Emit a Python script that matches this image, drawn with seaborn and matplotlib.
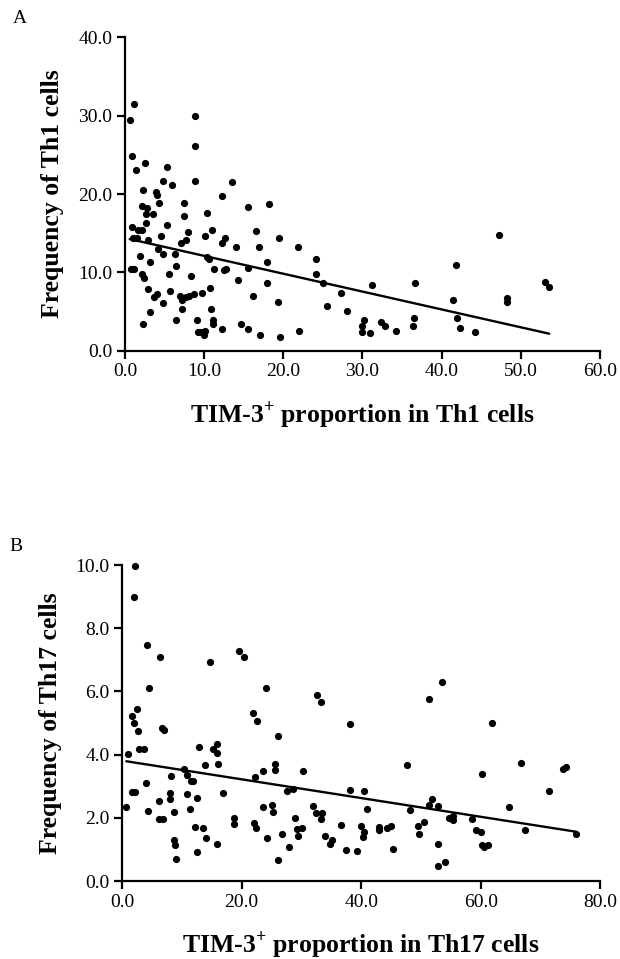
import numpy as np
import matplotlib
matplotlib.use("Agg")
import matplotlib.pyplot as plt
from matplotlib.ticker import FormatStrFormatter
import seaborn as sns

# Panel A: TIM-3+ proportion in Th1 cells vs Th1 frequency
th1_tim3 = [0.6, 1.1, 0.9, 1.4, 2.5, 2.3, 2.1, 2.8, 2.6, 3.5, 2.7, 0.9, 1.6, 2.2, 1.0, 1.5,
            2.9, 1.9, 3.2, 0.8, 1.2, 2.1, 2.4, 2.9, 3.7, 4.1, 4.8, 3.2, 2.3, 3.9, 4.0,
            4.3, 4.8, 5.3, 5.9, 5.3, 4.5, 4.2, 4.8, 6.3, 5.6, 6.4, 5.7, 6.4, 7.4, 7.4,
            7.1, 7.7, 8.0, 6.9, 7.2, 7.2, 7.7, 8.1, 8.3, 8.7, 8.9, 8.9, 8.9, 9.7, 9.1,
            9.2, 9.6, 10.0, 10.1, 10.3, 10.1, 10.3, 10.6, 11.0, 11.2, 10.8, 10.9, 11.1,
            11.1, 12.2, 12.3, 12.6, 12.5, 12.8, 12.3, 13.5, 14.0, 14.3, 14.7, 15.5, 15.6,
            15.6, 16.2, 16.5, 16.9, 17.1, 18.2, 18.0, 18.0, 19.3, 19.4, 19.6, 21.8, 22.0,
            24.1, 24.1, 25.0, 25.5, 27.3, 28.1, 31.2, 30.2, 30.0, 30.0, 30.9, 32.3, 32.8,
            34.2, 36.7, 36.5, 36.4, 41.8, 41.5, 42.0, 42.3, 44.2, 47.3, 48.3, 48.3, 53.1,
            53.6]
th1_freq = [29.4, 31.5, 24.9, 23.1, 24.0, 20.5, 18.5, 18.2, 17.5, 17.4, 16.3, 15.8, 15.4, 15.4,
            14.4, 14.4, 14.1, 12.1, 11.4, 10.4, 10.4, 9.8, 9.3, 7.9, 6.9, 7.2, 6.1, 5.0, 3.5,
            20.2, 19.9, 18.8, 21.7, 23.4, 21.1, 16.0, 14.6, 13.0, 12.4, 12.4, 9.85, 10.8,
            7.6, 4.0, 18.9, 17.2, 13.7, 14.2, 15.2, 7.0, 6.5, 5.4, 6.9, 7.0, 9.6, 7.3, 30.0,
            26.1, 21.7, 7.4, 4.0, 2.4, 2.4, 2.1, 2.6, 17.6, 14.6, 12.0, 11.7, 15.4, 10.5,
            8.0, 5.4, 4.0, 3.5, 19.7, 13.8, 14.4, 10.3, 10.5, 2.8, 21.5, 13.2, 9.0, 3.4,
            18.3, 10.6, 2.8, 7.0, 15.3, 13.3, 2.0, 18.7, 11.4, 8.7, 6.2, 14.4, 1.8, 13.3,
            2.6, 11.7, 9.8, 8.6, 5.7, 7.4, 5.1, 8.45, 3.95, 3.2, 2.4, 2.3, 3.65, 3.2, 2.6,
            8.6, 4.2, 3.2, 11.0, 6.5, 4.2, 2.9, 2.4, 14.8, 6.7, 6.2, 8.8, 8.2]

# Panel B: TIM-3+ proportion in Th17 cells vs Th17 frequency
th17_tim3 = [2.1, 2.0, 4.1, 6.4, 4.5, 1.7, 2.5, 2.0, 2.6, 6.7, 7.0, 2.9, 3.6, 0.9, 4.0, 1.7,
             2.2, 0.7, 4.4, 6.1, 6.1, 6.9, 8.2, 8.0, 8.0, 8.7, 8.7, 8.8, 9.0, 10.3, 10.9,
             11.5, 11.9, 10.9, 11.4, 12.6, 12.2, 12.5, 12.8, 13.8, 13.6, 14.1, 14.7, 15.2,
             15.9, 15.8, 16.0, 16.9, 15.8, 18.8, 18.8, 19.6, 20.4, 21.9, 22.6, 24.1, 22.3,
             23.5, 22.1, 22.4, 23.5, 24.2, 25.0, 25.2, 25.6, 25.6, 26.1, 26.1, 26.7, 28.0,
             27.6, 28.6, 30.2, 29.0, 29.2, 29.4, 30.1, 32.6, 33.3, 32.0, 32.4, 33.4, 33.3,
             34.0, 34.8, 35.2, 36.7, 37.5, 38.2, 38.2, 39.3, 40.4, 40.9, 40.0, 40.5, 40.3,
             43.0, 43.0, 44.3, 45.0, 45.3, 47.7, 48.1, 49.5, 50.6, 49.6, 51.3, 53.6, 51.8,
             51.3, 52.8, 52.9, 52.9, 54.1, 54.7, 55.3, 55.4, 58.6, 59.2, 60.1, 60.3, 60.2,
             60.5, 61.2, 61.9, 64.8, 66.8, 67.5, 71.4, 73.7, 74.3, 76.0]
th17_freq = [9.98, 9.0, 7.47, 7.08, 6.1, 5.23, 5.44, 4.99, 4.76, 4.83, 4.78, 4.18, 4.19, 4.03,
             3.10, 2.81, 2.81, 2.35, 2.23, 2.54, 1.97, 1.97, 3.31, 2.78, 2.6, 2.17, 1.29,
             1.14, 0.7, 3.53, 3.36, 3.15, 3.15, 2.76, 2.28, 2.63, 1.70, 0.92, 4.23, 3.68,
             1.67, 1.36, 6.93, 4.18, 4.34, 4.06, 3.71, 2.79, 1.18, 1.98, 1.82, 7.29, 7.1,
             5.31, 5.08, 6.12, 3.28, 3.49, 1.84, 1.67, 2.33, 1.37, 2.42, 2.17, 3.70, 3.52,
             4.58, 0.67, 1.49, 1.09, 2.86, 2.92, 3.47, 1.98, 1.65, 1.44, 1.67, 5.89, 5.65,
             2.38, 2.14, 2.14, 1.96, 1.44, 1.17, 1.29, 1.76, 0.97, 4.96, 2.88, 0.94, 2.86,
             2.29, 1.74, 1.54, 1.39, 1.71, 1.63, 1.68, 1.75, 1.02, 3.66, 2.24, 1.74, 1.86,
             1.49, 5.77, 6.29, 2.59, 2.41, 2.39, 1.18, 0.47, 0.61, 2.00, 1.94, 2.06, 1.95,
             1.60, 1.54, 3.40, 1.14, 1.09, 1.15, 5.0, 2.35, 3.74, 1.63, 2.84, 3.54, 3.60,
             1.50]

sns.set_style("ticks")
plt.rcParams['font.family'] = ['Liberation Serif', 'DejaVu Serif']
plt.rcParams['mathtext.fontset'] = 'custom'
plt.rcParams['mathtext.rm'] = 'Liberation Serif'
plt.rcParams['mathtext.bf'] = 'Liberation Serif:bold'
for key in ['text.color', 'axes.labelcolor', 'xtick.color', 'ytick.color', 'axes.edgecolor']:
    plt.rcParams[key] = 'black'

fig = plt.figure(figsize=(6.2, 9.59), dpi=100)
ax1 = fig.add_axes([0.2016, 0.634, 0.766, 0.3274])
ax2 = fig.add_axes([0.197, 0.0813, 0.771, 0.3295])

panels = [
    (ax1, th1_tim3, th1_freq, (0, 60), 10, (0, 40), 10,
     r"TIM-3$^{\mathbf{+}}$ proportion in Th1 cells", "Frequency of Th1 cells", "A"),
    (ax2, th17_tim3, th17_freq, (0, 80), 20, (0, 10), 2,
     r"TIM-3$^{\mathbf{+}}$ proportion in Th17 cells", "Frequency of Th17 cells", "B"),
]

for ax, x, y, xlim, xstep, ylim, ystep, xlabel, ylabel, tag in panels:
    sns.regplot(x=np.array(x), y=np.array(y), ax=ax, ci=None, color="black",
                scatter_kws={"s": 27, "linewidths": 0, "alpha": 1},
                line_kws={"linewidth": 1.7})
    ax.set_xlim(xlim)
    ax.set_ylim(ylim)
    ax.set_xticks(np.arange(xlim[0], xlim[1] + xstep / 2, xstep))
    ax.set_yticks(np.arange(ylim[0], ylim[1] + ystep / 2, ystep))
    ax.xaxis.set_major_formatter(FormatStrFormatter("%.1f"))
    ax.yaxis.set_major_formatter(FormatStrFormatter("%.1f"))
    ax.tick_params(direction="out", length=6, width=1.6, labelsize=14, pad=3)
    for s in ["left", "bottom"]:
        ax.spines[s].set_linewidth(1.6)
    for s in ["top", "right"]:
        ax.spines[s].set_visible(False)
    ax.set_xlabel(xlabel, fontsize=18.5, fontweight="bold", labelpad=13)
    ax.set_ylabel(ylabel, fontsize=18.5, fontweight="bold", labelpad=10)
    for c in ax.collections:
        c.set_clip_on(False)
    ax.text(-0.236, 1.045, tag, transform=ax.transAxes, fontsize=14)

fig.savefig("out.png", dpi=100)
